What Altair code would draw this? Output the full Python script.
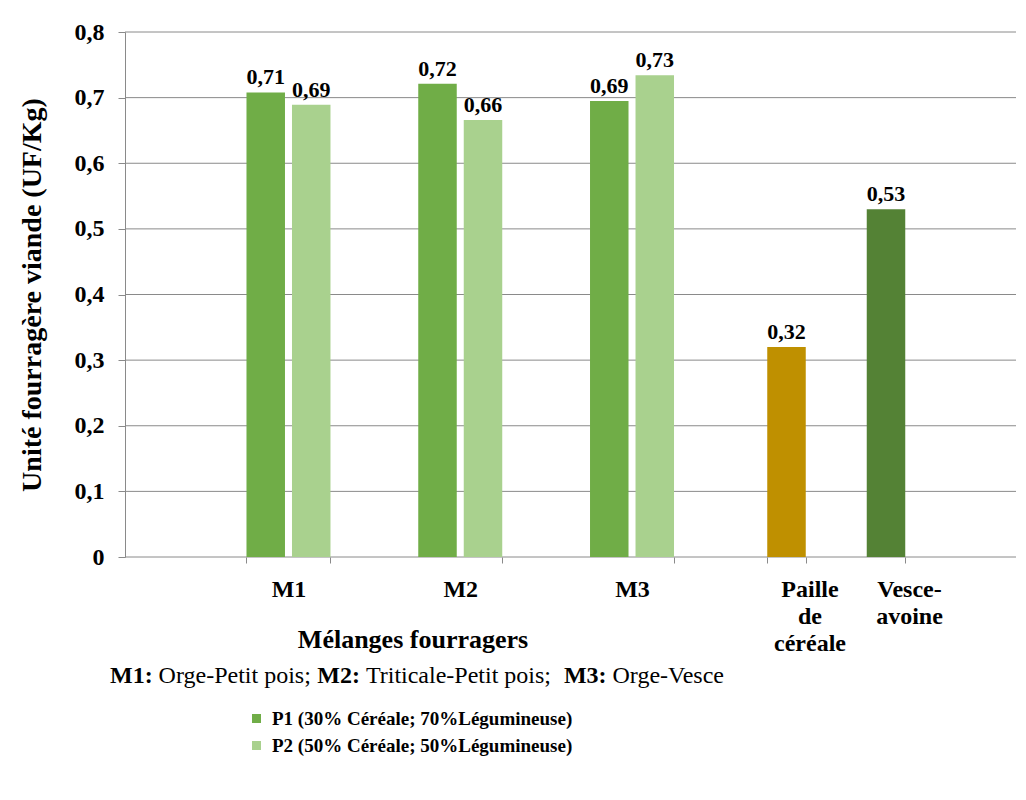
import altair as alt
import pandas as pd

# ---- data ----
melanges = ["M1", "M2", "M3"]
series = ["P1 (30% Céréale; 70%Légumineuse)", "P2 (50% Céréale; 50%Légumineuse)"]
p1_values = [0.708, 0.721, 0.695]
p2_values = [0.689, 0.666, 0.734]
p1_labels = ["0,71", "0,72", "0,69"]
p2_labels = ["0,69", "0,66", "0,73"]

temoins = ["Paille de céréale", "Vesce-avoine"]
temoin_values = [0.32, 0.53]
temoin_labels = ["0,32", "0,53"]

y_ticks = [0, 0.1, 0.2, 0.3, 0.4, 0.5, 0.6, 0.7, 0.8]

# ---- styling ----
FONT = "Liberation Serif"
GREY = "#8a8a8a"
series_colors = ["#70AD47", "#A9D18E"]
temoin_colors = ["#BF9000", "#548235"]

rows = []
for i, m in enumerate(melanges):
    rows.append({"Mélange": m, "Série": series[0], "value": p1_values[i], "label": p1_labels[i]})
    rows.append({"Mélange": m, "Série": series[1], "value": p2_values[i], "label": p2_labels[i]})
df_a = pd.DataFrame(rows)
df_b = pd.DataFrame({"Fourrage": temoins, "value": temoin_values, "label": temoin_labels})
df_grid = pd.DataFrame({"value": y_ticks})

y_title = "Unité fourragère viande (UF/Kg)"
y_scale = alt.Scale(domain=[0, 0.8], nice=False, zero=True)
y_axis = alt.Axis(
    values=y_ticks, grid=False,
    labelExpr="datum.value == 0 ? '0' : replace(format(datum.value, '.1f'), '.', ',')",
    titleX=-93, titleY=262.5, titleAngle=-90, titleAlign="center", titleBaseline="middle",
)
Y = alt.Y("value:Q", title=y_title, scale=y_scale, axis=y_axis)

# horizontal gridlines across the whole plot width
grid = alt.Chart(df_grid).mark_rule(color=GREY, strokeWidth=1).encode(y=Y)

x_a = alt.X(
    "Mélange:N",
    sort=melanges,
    title=None,
    scale=alt.Scale(domain=melanges, range=[77.6, 592.9], paddingInner=0.511, paddingOuter=0.2555),
    axis=alt.Axis(orient="bottom", domain=False, grid=False, tickBand="extent", labelAngle=0,
                  tickSize=6, tickColor=GREY, labelPadding=14, labelFontSize=24,
                  labelFont=FONT, labelFontWeight="bold", labelColor="black"),
)
xo_a = alt.XOffset("Série:N", sort=series,
                   scale=alt.Scale(domain=series, paddingInner=0.154, paddingOuter=0))

bars_a = alt.Chart(df_a).mark_bar().encode(
    x=x_a, xOffset=xo_a, y=Y,
    color=alt.Color("Série:N", sort=series,
                    scale=alt.Scale(domain=series, range=series_colors),
                    legend=alt.Legend(title=None, orient="none", legendX=122, legendY=677,
                                      symbolType="square", symbolSize=81, symbolStrokeWidth=0,
                                      labelFont=FONT, labelFontSize=19, labelFontWeight="bold",
                                      labelColor="black", labelOffset=6, rowPadding=7, padding=0,
                                      labelLimit=600)),
)
text_a = alt.Chart(df_a).mark_text(font=FONT, fontSize=22, fontWeight="bold", color="black",
                                   baseline="alphabetic", dy=-8).encode(
    x=x_a, xOffset=xo_a, y=Y, text="label:N",
)
layer_a = alt.layer(bars_a, text_a)

x_b = alt.X(
    "Fourrage:N",
    sort=temoins,
    title=None,
    scale=alt.Scale(domain=temoins, range=[611.75, 810.75], paddingInner=0.613, paddingOuter=0.3065),
    axis=alt.Axis(orient="bottom", domain=False, grid=False, tickBand="extent", labelAngle=0,
                  tickSize=6, tickColor=GREY, labelPadding=14, labelFontSize=24,
                  labelFont=FONT, labelFontWeight="bold", labelColor="black",
                  labelOffset=23, labelLineHeight=27,
                  labelExpr="datum.label == 'Vesce-avoine' ? ['Vesce-', 'avoine'] : split(datum.label, ' ')"),
)
bars_b = alt.Chart(df_b).mark_bar().encode(
    x=x_b, y=Y,
    color=alt.Color("Fourrage:N", sort=temoins,
                    scale=alt.Scale(domain=temoins, range=temoin_colors), legend=None),
)
text_b = alt.Chart(df_b).mark_text(font=FONT, fontSize=22, fontWeight="bold", color="black",
                                   baseline="alphabetic", dy=-8).encode(
    x=x_b, y=Y, text="label:N",
)
layer_b = alt.layer(bars_b, text_b)


def note(txt, x, y, size, bold, align="left"):
    return alt.Chart(pd.DataFrame({"t": [txt]})).mark_text(
        font=FONT, fontSize=size, fontWeight="bold" if bold else "normal", color="black",
        align=align, baseline="alphabetic",
    ).encode(x=alt.value(x), y=alt.value(y), text="t:N")


x_title = note("Mélanges fourragers", 288, 616, 26, True, align="center")
caption = [
    note("M1:", -15, 651, 24, True),
    note("Orge-Petit pois;", 33.6, 651, 24, False),
    note("M2:", 192.3, 651, 24, True),
    note("Triticale-Petit pois;", 240.9, 651, 24, False),
    note("M3:", 438.9, 651, 24, True),
    note("Orge-Vesce", 487.5, 651, 24, False),
]

chart = alt.layer(grid, layer_a, layer_b, x_title, *caption).resolve_scale(
    x="independent", color="independent"
).resolve_axis(x="independent").properties(
    width=891, height=525,
    autosize=alt.AutoSizeParams(type="none"),
    padding={"left": 117, "top": 24, "right": 2, "bottom": 243},
).configure_view(stroke=None).configure_axisY(
    grid=False, domainColor=GREY, tickColor=GREY, tickSize=7,
    labelFont=FONT, labelFontSize=24, labelFontWeight="bold", labelColor="black", labelPadding=14,
    titleFont=FONT, titleFontSize=28, titleFontWeight="bold", titleColor="black",
).configure_axisX(grid=False)

chart.save("out.html", embed_options={"renderer": "svg", "actions": False})
